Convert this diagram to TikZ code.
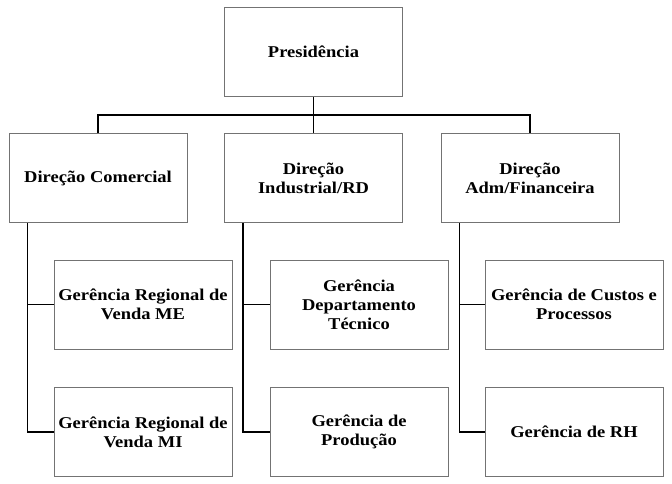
\documentclass[tikz,border=0pt]{standalone}
\usepackage{fontspec}
\setmainfont{Liberation Serif}[FakeStretch=1.12]
\usetikzlibrary{positioning, calc}

\begin{document}
\begin{tikzpicture}[
    x=1pt, y=-1pt,
    every node/.style={font=\fontsize{16.5}{19}\selectfont\bfseries},
    caixa/.style={
        draw=black!55,
        line width=0.9pt,
        fill=white,
        align=center,
        inner sep=2pt,
        minimum width=178pt,
        minimum height=89pt
    },
    ligacao/.style={
        draw=black,
        line width=1.6pt
    }
]

\useasboundingbox (0,0) rectangle (672,484);

% ============================================================
% PRESIDENCIA
% ============================================================

\node[caixa] (pres) at (313.5,52) {Presidência};

% ============================================================
% DIRECOES
% ============================================================

\node[caixa] (dirCom) at (98,178)    {Direção Comercial};
\node[caixa] (dirInd) at (313.5,178) {Direção\\Industrial/RD};
\node[caixa] (dirAdm) at (530,178)   {Direção\\Adm/Financeira};

% ============================================================
% GERENCIAS
% ============================================================

% Comercial
\node[caixa] (gerME) at (143,304.5) {Gerência Regional de\\Venda ME};
\node[caixa] (gerMI) at (143,432)   {Gerência Regional de\\Venda MI};

% Industrial
\node[caixa] (gerTec)  at (359,304.5) {Gerência\\Departamento\\Técnico};
\node[caixa] (gerProd) at (359,432)   {Gerência de\\Produção};

% Adm/Financeira
\node[caixa] (gerCus) at (574,304.5) {Gerência de Custos e\\Processos};
\node[caixa] (gerRH)  at (574,432)   {Gerência de RH};

% ============================================================
% LIGACOES
% ============================================================

\coordinate (barra) at (313.5,115);

\draw[ligacao] (pres.south) -- (dirInd.north);
\draw[ligacao]
    (dirCom.north) --
    (dirCom.north |- barra) --
    (dirAdm.north |- barra) --
    (dirAdm.north);

% Troncos laterais
\coordinate (tCom) at ([xshift=19pt]dirCom.south west);
\coordinate (tInd) at ([xshift=19pt]dirInd.south west);
\coordinate (tAdm) at ([xshift=19pt]dirAdm.south west);

\draw[ligacao] (tCom) |- (gerMI.west);
\draw[ligacao] (tCom |- gerME.west) -- (gerME.west);

\draw[ligacao] (tInd) |- (gerProd.west);
\draw[ligacao] (tInd |- gerTec.west) -- (gerTec.west);

\draw[ligacao] (tAdm) |- (gerRH.west);
\draw[ligacao] (tAdm |- gerCus.west) -- (gerCus.west);

\end{tikzpicture}
\end{document}
